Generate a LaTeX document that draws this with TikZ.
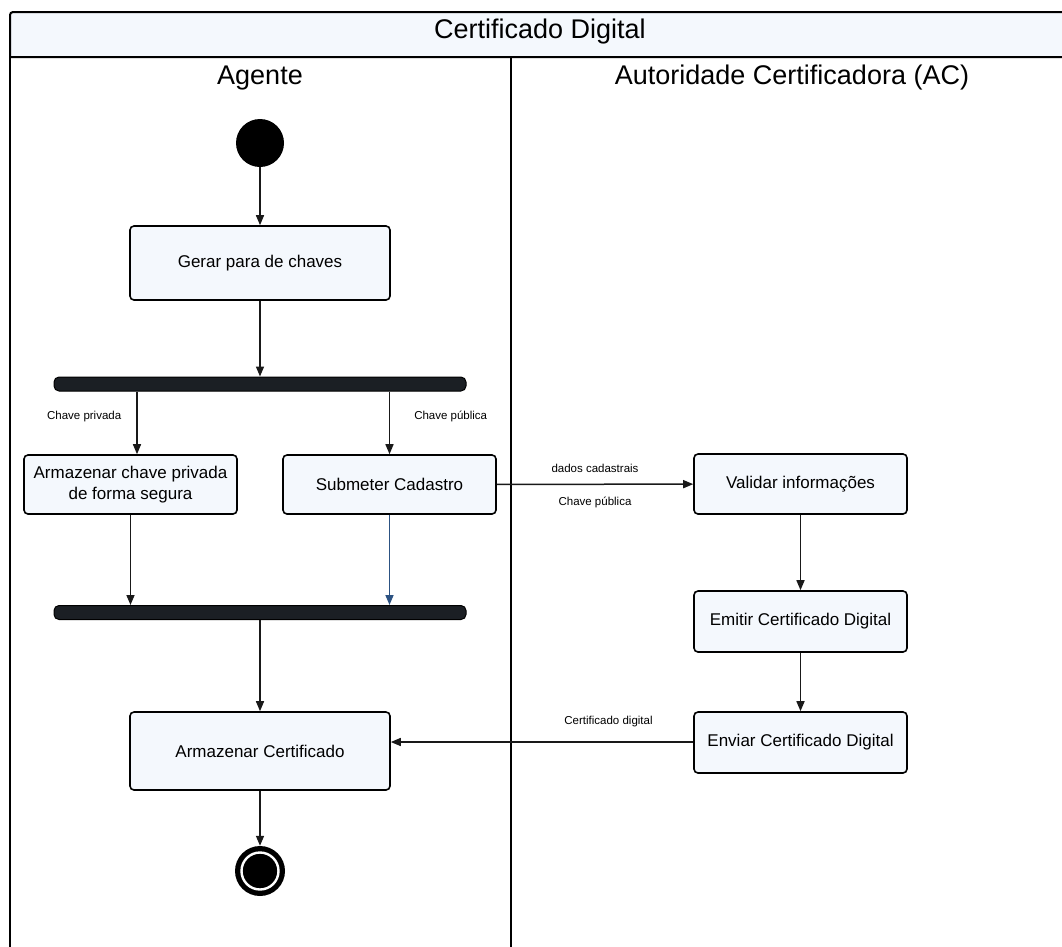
\documentclass[tikz,border=0pt]{standalone}
\usepackage{fontspec}
\setmainfont{Liberation Sans}
\usetikzlibrary{arrows.meta}
\definecolor{boxfill}{HTML}{F4F8FD}
\definecolor{barfill}{HTML}{1B1F24}
\definecolor{flowblue}{HTML}{2C5282}
\tikzset{
  action/.style={draw=black, line width=1.6pt, rounded corners=4pt, fill=boxfill,
    align=center, inner sep=0pt, font=\fontsize{17}{20.5}\selectfont},
  forkbar/.style={draw=black, line width=1pt, rounded corners=5pt, fill=barfill,
    minimum width=412pt, minimum height=14pt, inner sep=0pt},
  flow/.style={line width=1.5pt, draw=black!90, -{Triangle[length=10pt,width=8pt]}},
  flowlabel/.style={font=\fontsize{11.5}{13}\selectfont, inner sep=0pt},
  lane/.style={font=\fontsize{27}{30}\selectfont, inner sep=0pt},
}
\begin{document}
\begin{tikzpicture}[x=1pt,y=-1pt]
\useasboundingbox (0,0) rectangle (1062,946);
% swimlane frame
\fill[white] (0,0) rectangle (1062,946);
\draw[line width=2pt, fill=boxfill] (1063,57) -- (10,57) -- (10,14) [rounded corners=3pt] -- (10,12) -- (1063,12);
\draw[line width=2pt] (10,57) -- (10,947);
\draw[line width=2pt] (511,57) -- (511,947);
\node[lane] (title) at (540,32) {Certificado Digital};
\node[lane] (laneA) at (260,78) {Agente};
\node[lane] (laneB) at (792,78) {Autoridade Certificadora (AC)};

% nodes of the Agente lane
\node[circle, fill=black, minimum size=48pt, inner sep=0pt] (start) at (260,143) {};
\node[action, minimum width=260pt, minimum height=74pt] (gerar) at (260,263) {Gerar para de chaves};
\node[forkbar] (fork) at (260,384) {};
\node[action, minimum width=213pt, minimum height=59pt] (guardar) at (130.5,484.5) {Armazenar chave privada\\de forma segura};
\node[action, minimum width=213pt, minimum height=59pt] (submeter) at (389.5,484.5) {Submeter Cadastro};
\node[forkbar] (join) at (260,612.5) {};
\node[action, minimum width=260pt, minimum height=78pt] (armcert) at (260,751) {Armazenar Certificado};
\node[circle, fill=black, minimum size=50pt, inner sep=0pt] (end) at (260,871) {};
\draw[white, line width=2.4pt] (end.center) circle (18.5pt);

% nodes of the AC lane
\node[action, minimum width=213pt, minimum height=60pt] (validar) at (800.5,484) {Validar informações};
\node[action, minimum width=213pt, minimum height=61pt] (emitir) at (800.5,621.5) {Emitir Certificado Digital};
\node[action, minimum width=213pt, minimum height=61pt] (enviar) at (800.5,742.5) {Enviar Certificado Digital};

% control flow
\draw[flow] (start) -- (gerar);
\draw[flow] (gerar) -- (fork);
\draw[flow] (fork.south -| 137,0) -- node[flowlabel, pos=0.4, left=15pt] {Chave privada} (guardar.north -| 137,0);
\draw[flow] (fork.south -| submeter.north) -- node[flowlabel, pos=0.4, right=24pt] {Chave pública} (submeter.north);
\draw[flow] (guardar) -- (join.north -| guardar.south);
\draw[flow, draw=flowblue] (submeter) -- (join.north -| submeter.south);
\draw[flow] (join) -- (armcert);
\draw[flow] (armcert) -- (end);
\draw[flow] (submeter) -- node[flowlabel, above=11pt] {dados cadastrais} node[flowlabel, below=12pt] {Chave pública} (validar);
\draw[flow] (validar) -- (emitir);
\draw[flow] (emitir) -- (enviar);
\draw[flow] (enviar.west |- 0,742) -- node[flowlabel, pos=0.28, above=14pt] {Certificado digital} (armcert.east |- 0,742);
\end{tikzpicture}
\end{document}
